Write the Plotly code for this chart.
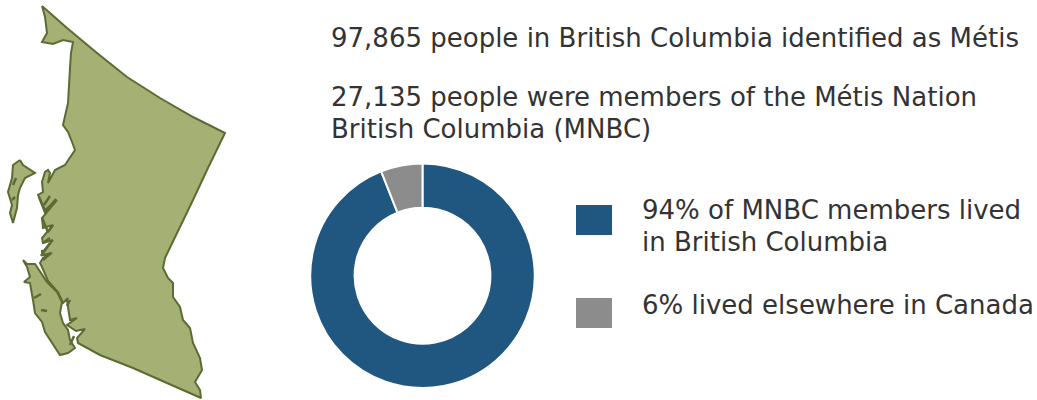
import plotly.graph_objects as go

# Chart data
pie_labels = ["MNBC members in British Columbia", "Elsewhere in Canada"]
pie_values = [94, 6]
pie_colors = ["#1f5780", "#8c8c8c"]

text_lines = ["97,865 people in British Columbia identified as Métis",
              "27,135 people were members of the Métis Nation",
              "British Columbia (MNBC)",
              "94% of MNBC members lived",
              "in British Columbia",
              "6% lived elsewhere in Canada"]
text_x = [330, 330, 330, 641, 641, 641]
text_y = [38, 97, 129, 210, 242, 305]

# Map outline (picture coordinates)
mainland_x = [42,67,97,127,160,193,225,220,207,193,165,163,168,173,173,180,183,190,193,200,202,195,200,201,167,133,100,78,
              77,85,76,70,67,77,70,68,67,68,63,58,48,42,40,43,52,43,42,42,53,43,42,53,43,42,57,45,38,43,42,45,48,50,48,55,65,70,75,
              72,68,63,65,68,70,71,73,63,53,42,47,45,42]
mainland_y = [6,28,53,77,98,117,133,143,170,200,258,268,278,283,297,307,320,328,343,358,370,382,390,398,383,368,355,343,
              338,329,331,327,325,318,320,307,300,298,303,292,281,267,263,258,253,255,250,253,240,243,238,225,228,218,200,210,195,192,182,172,170,173,183,170,165,158,150,
              142,132,125,115,103,68,53,42,40,44,42,33,17,6]
haida_x = [20,23,35,25,20,18,17,13,10,12,8,12,13,20]
haida_y = [160,165,173,178,188,195,208,223,213,205,192,178,165,160]
island_x = [23,27,35,40,47,57,62,60,63,68,70,75,68,60,52,45,42,35,33,30,24,30,27,23]
island_y = [260,264,264,272,282,292,302,313,323,330,340,348,353,355,343,332,322,313,300,283,282,277,267,260]
fjord_x = [39,45,56,None,44,50,None,42,48,53,None,43,50,None,41,50,None,43,51,None,67,70,None,41,47,None,34,41,None,13,16,None,12,15,None,70,74,None]
fjord_y = [197,212,199,None,205,196,None,218,232,225,None,243,238,None,256,243,None,260,253,None,306,300,None,310,311,None,298,294,None,185,178,None,200,197,None,345,336,None]

key_x0 = [576, 576]
key_x1 = [612, 612]
key_y0 = [205, 298]
key_y1 = [235, 328]

W, H = 1037, 400
TEXT = "#333333"
FONT = "DejaVu Sans"
SIZE = 26

fig = go.Figure()
for xs, ys in [(mainland_x, mainland_y), (haida_x, haida_y), (island_x, island_y)]:
    fig.add_trace(go.Scatter(x=xs, y=ys, mode="lines", fill="toself", fillcolor="#a5b074",
                             line=dict(color="#5c6b33", width=2), hoverinfo="skip", showlegend=False))
fig.add_trace(go.Scatter(x=fjord_x, y=fjord_y, mode="lines", line=dict(color="#5c6b33", width=2.5),
                         hoverinfo="skip", showlegend=False))

fig.add_trace(go.Pie(labels=pie_labels, values=pie_values, hole=0.605, sort=False, direction="clockwise",
                     rotation=0, textinfo="none", showlegend=False,
                     marker=dict(colors=pie_colors, line=dict(color="white", width=2)),
                     domain=dict(x=[310/W, 535/W], y=[1-388/H, 1-163.5/H])))

for i in range(2):
    fig.add_shape(type="rect", x0=key_x0[i], x1=key_x1[i], y0=key_y0[i], y1=key_y1[i],
                  fillcolor=pie_colors[i], line=dict(width=0))

for txt, x, y in zip(text_lines, text_x, text_y):
    fig.add_annotation(x=x, y=y, text=txt, showarrow=False, xanchor="left", yanchor="middle", align="left",
                       borderpad=0, font=dict(family=FONT, size=SIZE, color=TEXT))

fig.update_layout(width=W, height=H, margin=dict(l=0, r=0, t=0, b=0), paper_bgcolor="white", plot_bgcolor="white",
                  xaxis=dict(range=[0, W], visible=False, domain=[0, 1]),
                  yaxis=dict(range=[H, 0], visible=False, domain=[0, 1]))
fig.write_html("out.html", config=dict(displayModeBar=False), post_script="document.body.style.margin='0';")
